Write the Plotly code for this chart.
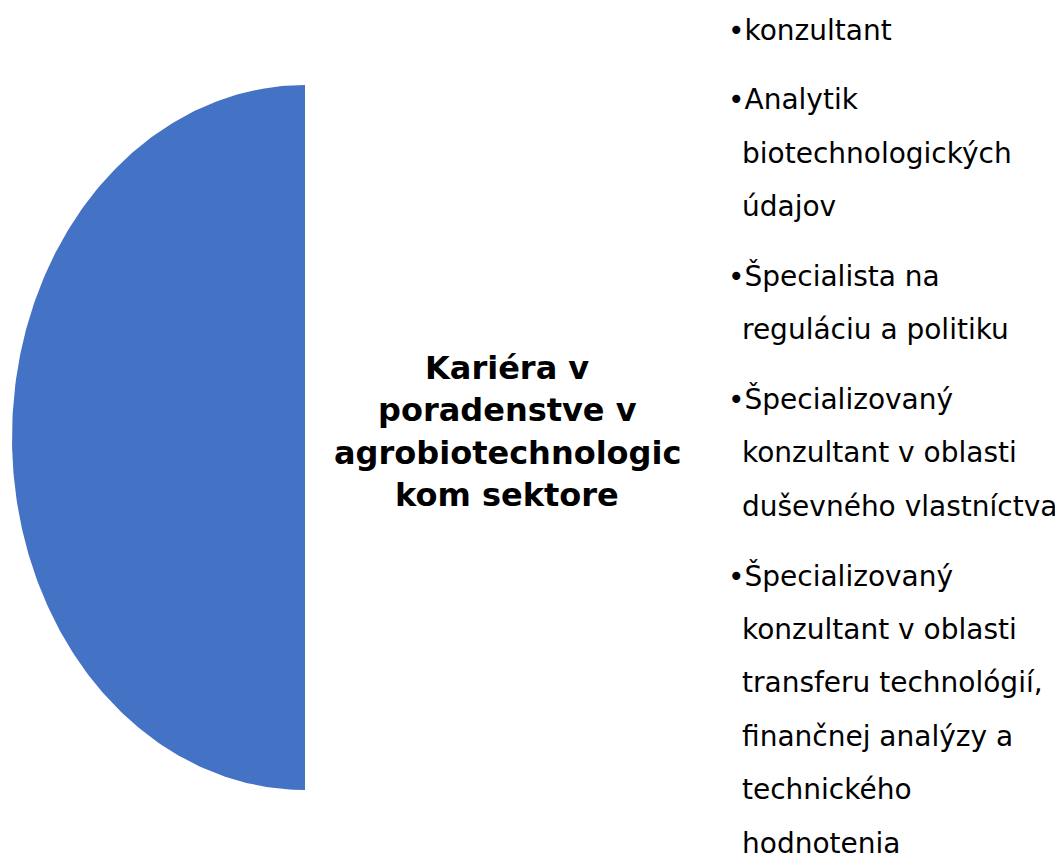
import numpy as np
import plotly.graph_objects as go

W, H = 1063, 861
OFF = 8  # default page body margin

title_lines = ["Kariéra v", "poradenstve v", "agrobiotechnologic", "kom sektore"]

# each item: list of wrapped lines
items = [
    ["konzultant"],
    ["Analytik", "biotechnologických", "údajov"],
    ["Špecialista na", "reguláciu a politiku"],
    ["Špecializovaný", "konzultant v oblasti", "duševného vlastníctva"],
    ["Špecializovaný", "konzultant v oblasti", "transferu technológií,",
     "finančnej analýzy a", "technického", "hodnotenia"],
]

shape_color = "#4472C4"
font_list = "DejaVu Sans"

fig = go.Figure()

# half ellipse (left half)
cx, cy, rx, ry = 305, 437.5, 293, 352.5
t = np.linspace(np.pi / 2, 3 * np.pi / 2, 240)
xs = cx + rx * np.cos(t)
ys = cy - ry * np.sin(t)
fig.add_trace(go.Scatter(x=list(xs) + [cx], y=list(ys) + [cy - ry], fill="toself",
                         fillcolor=shape_color, mode="lines",
                         line=dict(color=shape_color, width=0),
                         hoverinfo="skip", showlegend=False))

# center bold title
ty0, tdy = 368, 42.3
for i, ln in enumerate(title_lines):
    fig.add_annotation(x=507, y=ty0 + i * tdy, text=f"<b>{ln}</b>", showarrow=False,
                       xanchor="center", yanchor="middle",
                       font=dict(family="DejaVu Sans", size=32, color="#000000"))

# bullet list
y = 30
line_dy = 53.5
para_gap = 16
for item in items:
    for j, ln in enumerate(item):
        if j == 0:
            fig.add_annotation(x=726, y=y, text="•" + ln, showarrow=False, xanchor="left",
                               yanchor="middle",
                               font=dict(family=font_list, size=28, color="#000000"))
        else:
            fig.add_annotation(x=740, y=y, text=ln, showarrow=False, xanchor="left",
                               yanchor="middle",
                               font=dict(family=font_list, size=28, color="#000000"))
        y += line_dy
    y += para_gap

fig.update_xaxes(range=[OFF, W], visible=False, fixedrange=True)
fig.update_yaxes(range=[H, OFF], visible=False, fixedrange=True)
fig.update_layout(width=W - OFF, height=H - OFF, margin=dict(l=0, r=0, t=0, b=0),
                  plot_bgcolor="white", paper_bgcolor="white", showlegend=False)

fig.write_html("out.html", config={"displayModeBar": False})
